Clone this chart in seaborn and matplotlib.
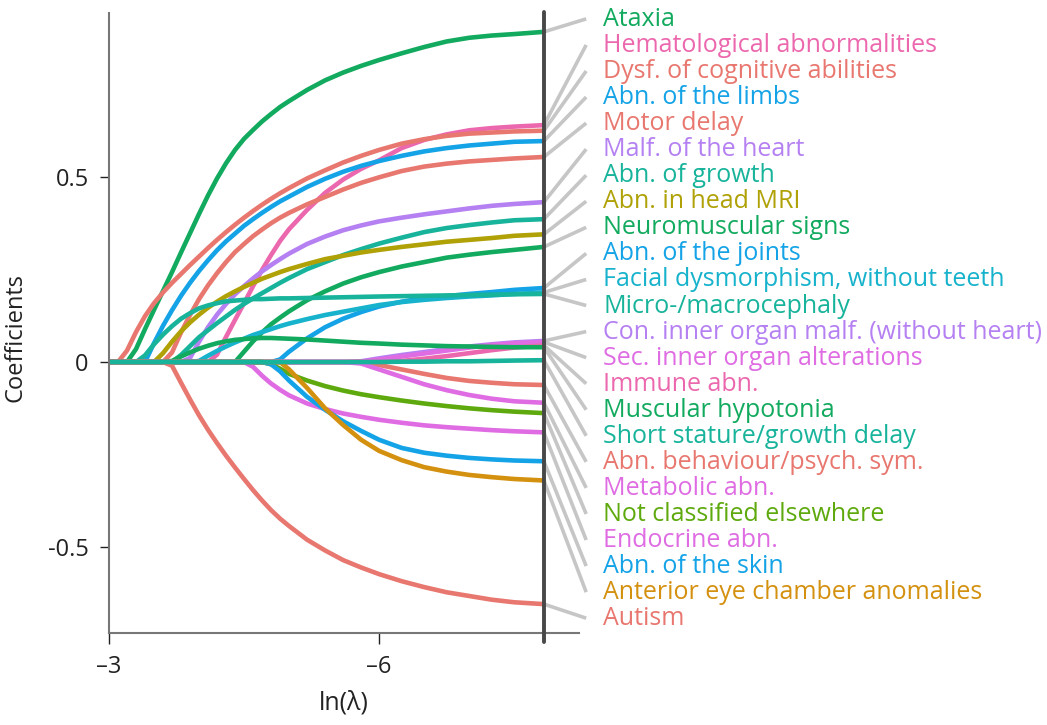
import numpy as np
import pandas as pd
import matplotlib
matplotlib.use("Agg")
import matplotlib.pyplot as plt
import seaborn as sns

log_lambda = [-3.0, -3.1, -3.2, -3.3, -3.4, -3.5, -3.6, -3.7, -3.8, -3.9,
              -4.0, -4.1, -4.2, -4.3, -4.4, -4.5, -4.6, -4.7, -4.8, -4.9,
              -5.0, -5.2, -5.4, -5.6, -5.8, -6.0, -6.25, -6.5, -6.75, -7.0,
              -7.25, -7.5, -7.83]

# coefficient paths, one list per feature
ataxia = [0, 0, 0, 0.035, 0.089, 0.141, 0.192, 0.243, 0.296, 0.348,
          0.400, 0.450, 0.496, 0.537, 0.573, 0.603, 0.627, 0.650, 0.670, 0.689,
          0.705, 0.735, 0.761, 0.782, 0.800, 0.816, 0.834, 0.851, 0.866, 0.876,
          0.882, 0.886, 0.892]
hematological = [0, 0, 0, 0, 0, 0, 0, 0, 0, 0,
                 0, 0, 0.020, 0.068, 0.114, 0.159, 0.205, 0.249, 0.289, 0.327,
                 0.359, 0.411, 0.457, 0.493, 0.522, 0.545, 0.578, 0.600, 0.615, 0.626,
                 0.632, 0.636, 0.640]
dysf_cognitive = [0, 0, 0.031, 0.081, 0.124, 0.159, 0.188, 0.214, 0.238, 0.262,
                  0.285, 0.308, 0.330, 0.351, 0.371, 0.390, 0.408, 0.425, 0.441, 0.456,
                  0.470, 0.496, 0.518, 0.539, 0.557, 0.573, 0.590, 0.602, 0.611, 0.617,
                  0.620, 0.623, 0.625]
limbs = [0, 0, 0, 0, 0, 0.051, 0.098, 0.140, 0.179, 0.214,
         0.246, 0.275, 0.302, 0.326, 0.347, 0.368, 0.386, 0.403, 0.419, 0.434,
         0.447, 0.473, 0.495, 0.514, 0.530, 0.543, 0.557, 0.569, 0.578, 0.585,
         0.590, 0.595, 0.597]
motor_delay = [0, 0, 0, 0, 0, 0, 0, 0.026, 0.080, 0.127,
               0.170, 0.207, 0.240, 0.270, 0.297, 0.319, 0.340, 0.358, 0.375, 0.390,
               0.403, 0.426, 0.446, 0.466, 0.484, 0.499, 0.516, 0.528, 0.536, 0.542,
               0.546, 0.550, 0.554]
heart = [0, 0, 0, 0, 0, 0, 0, 0, 0, 0.011,
         0.055, 0.094, 0.128, 0.157, 0.183, 0.205, 0.226, 0.245, 0.262, 0.278,
         0.293, 0.319, 0.339, 0.356, 0.369, 0.380, 0.390, 0.399, 0.407, 0.415,
         0.422, 0.427, 0.432]
growth = [0, 0, 0, 0, 0, 0, 0, 0, 0.019, 0.043,
          0.067, 0.086, 0.105, 0.123, 0.141, 0.157, 0.172, 0.186, 0.200, 0.214,
          0.227, 0.251, 0.270, 0.289, 0.305, 0.320, 0.336, 0.351, 0.362, 0.370,
          0.377, 0.383, 0.386]
head_mri = [0, 0, 0, 0, 0, 0, 0.024, 0.055, 0.083, 0.107,
            0.128, 0.147, 0.163, 0.178, 0.191, 0.203, 0.214, 0.225, 0.234, 0.243,
            0.251, 0.265, 0.278, 0.287, 0.296, 0.303, 0.311, 0.318, 0.325, 0.330,
            0.335, 0.341, 0.345]
neuromuscular = [0, 0, 0, 0, 0, 0, 0, 0, 0, 0,
                 0, 0, 0, 0, 0, 0.028, 0.056, 0.080, 0.102, 0.120,
                 0.137, 0.167, 0.191, 0.212, 0.229, 0.243, 0.258, 0.270, 0.282, 0.290,
                 0.297, 0.303, 0.311]
joints = [0, 0, 0, 0, 0, 0, 0, 0, 0, 0,
          0, 0, 0, 0, 0, 0, 0, 0, 0, 0.007,
          0.028, 0.064, 0.094, 0.117, 0.135, 0.150, 0.163, 0.173, 0.178, 0.184,
          0.189, 0.195, 0.200]
facial = [0, 0, 0, 0, 0, 0, 0, 0, 0, 0,
          0.003, 0.017, 0.030, 0.042, 0.053, 0.063, 0.073, 0.081, 0.089, 0.097,
          0.104, 0.116, 0.127, 0.136, 0.145, 0.154, 0.162, 0.168, 0.173, 0.177,
          0.180, 0.184, 0.188]
micro_macro = [0, 0, 0, 0, 0.018, 0.048, 0.074, 0.097, 0.117, 0.132,
               0.145, 0.153, 0.159, 0.164, 0.166, 0.168, 0.170, 0.170, 0.171, 0.172,
               0.172, 0.173, 0.174, 0.175, 0.176, 0.177, 0.178, 0.179, 0.180, 0.181,
               0.182, 0.183, 0.184]
con_inner = [0, 0, 0, 0, 0, 0, 0, 0, 0, 0,
             0, 0, 0, 0, 0, 0, 0, 0, 0, 0,
             0, 0, 0, 0, 0.002, 0.010, 0.019, 0.027, 0.035, 0.042,
             0.048, 0.053, 0.057]
sec_inner = [0, 0, 0, 0, 0, 0, 0, 0, 0, 0,
             0, 0, 0, 0, 0, 0, 0, 0, 0, 0,
             0, 0, 0, 0, 0.001, 0.007, 0.015, 0.023, 0.031, 0.039,
             0.046, 0.051, 0.054]
immune = [0, 0, 0, 0, 0, 0, 0, 0, 0, 0,
          0, 0, 0, 0, 0, 0, 0, 0, 0, 0,
          0, 0, 0, 0, 0, 0, 0.003, 0.009, 0.016, 0.024,
          0.032, 0.039, 0.045]
hypotonia = [0, 0, 0, 0, 0, 0, 0, 0.003, 0.015, 0.026,
             0.036, 0.044, 0.051, 0.056, 0.060, 0.062, 0.064, 0.065, 0.065, 0.064,
             0.063, 0.061, 0.058, 0.055, 0.052, 0.050, 0.047, 0.045, 0.043, 0.042,
             0.041, 0.040, 0.040]
short_stature = [0, 0, 0, 0, 0, 0, 0, 0, 0, 0,
                 0, 0, 0, 0, 0, 0, 0, 0, 0, 0,
                 0, 0, 0, 0, 0, 0, 0.001, 0.001, 0.002, 0.002,
                 0.003, 0.004, 0.005]
behaviour = [0, 0, 0, 0, 0, 0, 0, 0, 0, 0,
             0, 0, 0, 0, 0, 0, 0, 0, 0, 0,
             0, 0, 0, 0, 0, -0.008, -0.020, -0.032, -0.043, -0.051,
             -0.056, -0.060, -0.062]
metabolic = [0, 0, 0, 0, 0, 0, 0, 0, 0, 0,
             0, 0, 0, 0, 0, 0, 0, 0, 0, 0,
             0, 0, 0, 0, -0.004, -0.020, -0.040, -0.060, -0.076, -0.089,
             -0.099, -0.106, -0.110]
not_classified = [0, 0, 0, 0, 0, 0, 0, 0, 0, 0,
                  0, 0, 0, 0, 0, 0, 0, 0, -0.006, -0.018,
                  -0.032, -0.050, -0.065, -0.077, -0.087, -0.095, -0.104, -0.112, -0.119, -0.125,
                  -0.130, -0.134, -0.138]
endocrine = [0, 0, 0, 0, 0, 0, 0, 0, 0, 0,
             0, 0, 0, 0, 0, 0, -0.013, -0.037, -0.058, -0.075,
             -0.090, -0.112, -0.127, -0.139, -0.148, -0.156, -0.164, -0.171, -0.176, -0.180,
             -0.184, -0.187, -0.190]
skin = [0, 0, 0, 0, 0, 0, 0, 0, 0, 0,
        0, 0, 0, 0, 0, 0, 0, 0, -0.006, -0.025,
        -0.050, -0.094, -0.129, -0.160, -0.186, -0.210, -0.232, -0.245, -0.253, -0.259,
        -0.263, -0.266, -0.268]
eye = [0, 0, 0, 0, 0, 0, 0, 0, 0, 0,
       0, 0, 0, 0, 0, 0, 0, 0, 0, 0,
       -0.020, -0.070, -0.125, -0.170, -0.210, -0.240, -0.265, -0.284, -0.296, -0.305,
       -0.311, -0.316, -0.320]
autism = [0, 0, 0, 0, 0, 0, 0, -0.010, -0.056, -0.101,
          -0.144, -0.183, -0.219, -0.253, -0.285, -0.316, -0.346, -0.374, -0.400, -0.423,
          -0.443, -0.480, -0.509, -0.535, -0.555, -0.573, -0.592, -0.608, -0.622, -0.632,
          -0.642, -0.649, -0.654]

labels = ["Ataxia", "Hematological abnormalities", "Dysf. of cognitive abilities",
          "Abn. of the limbs", "Motor delay", "Malf. of the heart", "Abn. of growth",
          "Abn. in head MRI", "Neuromuscular signs", "Abn. of the joints",
          "Facial dysmorphism, without teeth", "Micro-/macrocephaly",
          "Con. inner organ malf. (without heart)", "Sec. inner organ alterations",
          "Immune abn.", "Muscular hypotonia", "Short stature/growth delay",
          "Abn. behaviour/psych. sym.", "Metabolic abn.", "Not classified elsewhere",
          "Endocrine abn.", "Abn. of the skin", "Anterior eye chamber anomalies", "Autism"]
paths = [ataxia, hematological, dysf_cognitive, limbs, motor_delay, heart, growth,
         head_mri, neuromuscular, joints, facial, micro_macro, con_inner, sec_inner,
         immune, hypotonia, short_stature, behaviour, metabolic, not_classified,
         endocrine, skin, eye, autism]

green, pink, salmon, blue = "#12AA5E", "#EC68AE", "#E8776F", "#14A3E6"
purple, teal, olive, cyan = "#B580F2", "#18B39B", "#AFA106", "#17B2CC"
magenta, lime, orange = "#DF6CE3", "#5EAA0E", "#D4900F"
colors = [green, pink, salmon, blue, salmon, purple, teal, olive, green, blue, cyan, teal,
          purple, magenta, pink, green, teal, salmon, magenta, lime, magenta, blue, orange,
          salmon]

df = pd.DataFrame({
    "log_lambda": np.tile(log_lambda, len(labels)),
    "coef": np.concatenate(paths),
    "feature": np.repeat(labels, len(log_lambda)),
})
palette = dict(zip(labels, colors))
# short stature is drawn last so the zero line stays teal
draw_order = [l for l in labels if l != "Short stature/growth delay"] + ["Short stature/growth delay"]

sns.set_style("ticks")
plt.rcParams["font.family"] = ["Open Sans", "DejaVu Sans"]

fig = plt.figure(figsize=(10.47, 7.25), dpi=100)
ax = fig.add_axes([0.1041, 0.1269, 0.4489, 0.8552])

sns.lineplot(data=df, x="log_lambda", y="coef", hue="feature", hue_order=draw_order,
             palette=palette, estimator=None, sort=False, legend=False, linewidth=3.3, ax=ax)

ax.set_xlim(-3, -8.22)
ax.set_ylim(-0.732, 0.943)

lam_end = log_lambda[-1]
ax.plot([lam_end, lam_end], [0.946, -0.755], color="#484848", lw=2.8, clip_on=False, zorder=5)

# labels on the right, evenly spaced, with grey connectors
label_base = np.linspace(0.908, -0.711, len(labels))
for lab, col, path, yb in zip(labels, colors, paths, label_base):
    ax.plot([lam_end, -8.30], [path[-1], yb + 0.019], color="#C6C6C6", lw=2.6,
            clip_on=False, zorder=1, solid_capstyle="butt")
    ax.text(-8.49, yb, lab, color=col, fontsize=18, va="baseline", ha="left", clip_on=False)

ax.set_xticks([-3, -6])
ax.set_xticklabels(["\u20133", "\u20136"])
ax.set_yticks([-0.5, 0, 0.5])
ax.set_yticklabels(["-0.5", "0", "0.5"])
ax.tick_params(axis="both", labelsize=17, colors="#222222", width=1.0)
ax.tick_params(axis="y", length=6.5, pad=8)
ax.tick_params(axis="x", length=8, pad=8)
for s in ["left", "bottom"]:
    ax.spines[s].set_color("#777777")
    ax.spines[s].set_linewidth(1.5)
sns.despine(ax=ax)

ax.set_xlabel("ln(\u03bb)", fontsize=18, color="#222222", labelpad=8)
ax.set_ylabel("Coefficients", fontsize=17, color="#222222")
ax.yaxis.set_label_coords(-0.174, 0.476)

fig.savefig("out.png", dpi=100)
